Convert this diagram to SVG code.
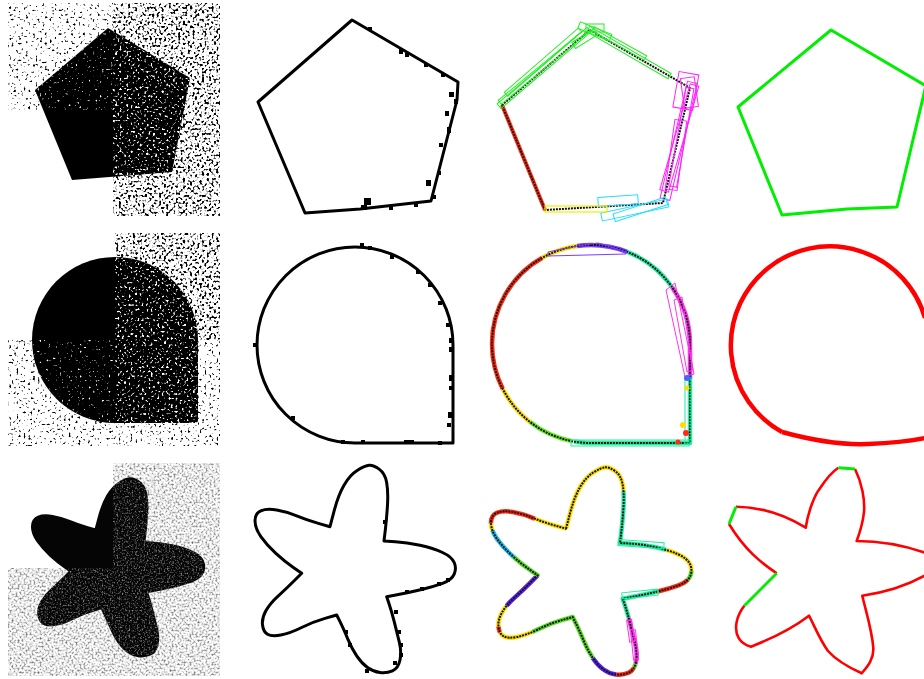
<svg xmlns="http://www.w3.org/2000/svg" xmlns:xlink="http://www.w3.org/1999/xlink" width="924" height="679" viewBox="0 0 924 679">
<style>
.out{fill:none;stroke:#000;stroke-width:3;stroke-linejoin:round}
.dot{fill:#000}
.thin{fill:none;stroke:#111;stroke-width:2;stroke-linejoin:round}
.seg{fill:none;stroke-width:4.5;stroke-linecap:butt;stroke-linejoin:round}
.box{fill:none;stroke-width:1}
.g4{fill:none;stroke:#00ee00;stroke-width:3;stroke-linejoin:round}
.r4{fill:none;stroke:#ff0000;stroke-width:2.6;stroke-linejoin:round}
</style>
<defs>
<filter id="nL" x="0" y="0" width="1" height="1" color-interpolation-filters="sRGB">
<feTurbulence type="fractalNoise" baseFrequency="0.42" numOctaves="1" seed="4"/>
<feColorMatrix type="matrix" values="0 0 0 0 0 0 0 0 0 0 0 0 0 0 0 8 0 0 0 -4.8"/>
<feComposite in2="SourceGraphic" operator="in"/>
</filter>
<filter id="nD" x="0" y="0" width="1" height="1" color-interpolation-filters="sRGB">
<feTurbulence type="fractalNoise" baseFrequency="0.42" numOctaves="1" seed="9"/>
<feColorMatrix type="matrix" values="0 0 0 0 0 0 0 0 0 0 0 0 0 0 0 8 0 0 0 -4.2"/>
<feComposite in2="SourceGraphic" operator="in"/>
</filter>
<filter id="wS" x="0" y="0" width="1" height="1" color-interpolation-filters="sRGB">
<feTurbulence type="fractalNoise" baseFrequency="0.45" numOctaves="1" seed="13"/>
<feColorMatrix type="matrix" values="0 0 0 0 1 0 0 0 0 1 0 0 0 0 1 8 0 0 0 -5.2"/>
<feComposite in2="SourceGraphic" operator="in"/>
</filter>
<filter id="wD" x="0" y="0" width="1" height="1" color-interpolation-filters="sRGB">
<feTurbulence type="fractalNoise" baseFrequency="0.45" numOctaves="1" seed="21"/>
<feColorMatrix type="matrix" values="0 0 0 0 1 0 0 0 0 1 0 0 0 0 1 8 0 0 0 -4.6"/>
<feComposite in2="SourceGraphic" operator="in"/>
</filter>
<filter id="nG" x="0" y="0" width="1" height="1" color-interpolation-filters="sRGB">
<feTurbulence type="fractalNoise" baseFrequency="0.5" numOctaves="2" seed="7"/>
<feColorMatrix type="matrix" values="0 0 0 0 0.42 0 0 0 0 0.42 0 0 0 0 0.42 2.6 0 0 0 -1.15"/>
<feComposite in2="SourceGraphic" operator="in"/>
</filter>
<filter id="wG" x="0" y="0" width="1" height="1" color-interpolation-filters="sRGB">
<feTurbulence type="fractalNoise" baseFrequency="0.5" numOctaves="2" seed="17"/>
<feColorMatrix type="matrix" values="0 0 0 0 0.5 0 0 0 0 0.5 0 0 0 0 0.5 3 0 0 0 -1.45"/>
<feComposite in2="SourceGraphic" operator="in"/>
</filter>
<clipPath id="q1tl"><rect x="0" y="0" width="113" height="110"/></clipPath>
<clipPath id="q1r"><rect x="113" y="0" width="120" height="225"/></clipPath>
<clipPath id="q2tr"><rect x="115" y="225" width="120" height="115"/></clipPath>
<clipPath id="q2bl"><rect x="0" y="340" width="115" height="115"/></clipPath>
<clipPath id="q2br"><rect x="115" y="340" width="120" height="115"/></clipPath>
<clipPath id="q3x"><path d="M113 455H235V679H0V568H113Z"/></clipPath>
<path id="star" pathLength="808" d="M330 526.7 L334.15 510.85 Q338.3 495 344.15 485 Q350 475 357.5 470.35 Q365 465.7 369.15 465.35 Q373.3 465 379.15 469.15 Q385 473.3 386.65 482.5 Q388.3 491.7 387.5 505 Q386.7 518.3 385.35 529.65 L384 541 L395.35 541.65 Q406.7 542.3 420 545.3 Q433.3 548.3 442.5 552.5 Q451.7 556.7 454.2 562.5 Q456.7 568.3 454.2 574.15 Q451.7 580 442.5 583.35 Q433.3 586.7 421.65 589.5 Q410 592.3 398.35 594.5 L386.7 596.7 L389.2 604.2 Q391.7 611.7 394.2 621.7 Q396.7 631.7 399.2 641.7 Q401.7 651.7 400 660 Q398.3 668.3 392.5 670.8 Q386.7 673.3 380 672.5 Q373.3 671.7 367.5 667.5 Q361.7 663.3 356.7 655.8 Q351.7 648.3 347.5 638.3 Q343.3 628.3 340 621.65 L336.7 615 L325 618.35 Q313.3 621.7 301.65 627.5 Q290 633.3 280.85 635 Q271.7 636.7 267.5 634.2 Q263.3 631.7 262.5 625 Q261.7 618.3 265.85 610.8 Q270 603.3 278.35 595.8 Q286.7 588.3 294.2 580.8 L301.7 573.3 L293.35 567.5 Q285 561.7 275.85 553.35 Q266.7 545 260.85 536.65 Q255 528.3 255 520.8 Q255 513.3 260.85 510.8 Q266.7 508.3 276.7 510 Q286.7 511.7 296.7 515.85 Q306.7 520 318.35 523.35 Z"/>
<path id="tear3" pathLength="665" d="M591 245 A99 99 0 0 1 690 344 L690 443 L591 443 A99 99 0 0 1 492 344 A99 99 0 0 1 591 245 Z"/>
</defs>
<rect width="924" height="679" fill="#fff"/>

<!-- Column 1: input images -->
<g id="img-pentagon">
<rect x="8" y="3" width="105" height="107" fill="#000" filter="url(#nL)"/>
<rect x="113" y="3" width="107" height="107" fill="#000" filter="url(#nD)"/>
<rect x="113" y="110" width="107" height="106" fill="#000" filter="url(#nD)"/>
<polygon points="108,28 190,78 172,172 72,180 35,90" fill="#000"/>
<polygon points="108,28 190,78 172,172 72,180 35,90" fill="#000" filter="url(#wS)" clip-path="url(#q1tl)"/>
<polygon points="108,28 190,78 172,172 72,180 35,90" fill="#000" filter="url(#wD)" clip-path="url(#q1r)"/>
</g>
<g id="img-teardrop">
<rect x="115" y="233" width="105" height="107" fill="#000" filter="url(#nD)"/>
<rect x="8" y="340" width="107" height="106" fill="#000" filter="url(#nL)"/>
<rect x="115" y="340" width="105" height="106" fill="#000" filter="url(#nL)"/>
<path d="M115 257 A83 83 0 0 1 198 340 L198 420 Q198 423 195 423 L115 423 A83 83 0 0 1 115 257 Z" fill="#000"/>
<path d="M115 257 A83 83 0 0 1 198 340 L198 420 Q198 423 195 423 L115 423 A83 83 0 0 1 115 257 Z" fill="#000" filter="url(#wD)" clip-path="url(#q2tr)"/>
<path d="M115 257 A83 83 0 0 1 198 340 L198 420 Q198 423 195 423 L115 423 A83 83 0 0 1 115 257 Z" fill="#000" filter="url(#wS)" clip-path="url(#q2bl)"/>
<path d="M115 257 A83 83 0 0 1 198 340 L198 420 Q198 423 195 423 L115 423 A83 83 0 0 1 115 257 Z" fill="#000" filter="url(#wD)" clip-path="url(#q2br)"/>
</g>
<g id="img-star">
<rect x="113" y="463" width="107" height="105" fill="#000" filter="url(#nG)"/>
<rect x="8" y="568" width="105" height="108" fill="#000" filter="url(#nG)"/>
<rect x="113" y="568" width="107" height="108" fill="#000" filter="url(#nG)"/>
<g transform="translate(-180.3 89.4) scale(0.84)">
<use xlink:href="#star" href="#star" fill="#050505" stroke="#050505" stroke-width="7"/>
</g>
<g clip-path="url(#q3x)">
<g transform="translate(-180.3 89.4) scale(0.84)">
<use xlink:href="#star" href="#star" fill="#000" stroke="#000" stroke-width="7" filter="url(#wG)"/>
</g>
</g>
</g>

<!-- Column 2: black outlines -->
<g id="outline-pentagon">
<polygon class="out" points="352,20 458,82 457,100 431,201 360,209 305,213 258,102"/>
<g class="dot">
<rect x="368" y="27" width="4" height="4"/><rect x="399" y="49" width="4" height="5"/><rect x="405" y="53" width="4" height="4"/>
<rect x="424" y="63" width="4" height="4"/><rect x="441" y="73" width="4" height="4"/><rect x="449" y="92" width="5" height="5"/>
<rect x="454" y="99" width="4" height="5"/><rect x="445" y="111" width="4" height="5"/><rect x="447" y="127" width="4" height="6"/>
<rect x="439" y="143" width="4" height="4"/><rect x="437" y="171" width="4" height="4"/><rect x="426" y="180" width="5" height="6"/>
<rect x="364" y="198" width="7" height="7"/><rect x="361" y="205" width="6" height="5"/><rect x="414" y="203" width="4" height="4"/>
<rect x="389" y="206" width="4" height="4"/><rect x="432" y="195" width="4" height="4"/>
</g>
</g>
<g id="outline-teardrop">
<path class="out" d="M355 247 A98 98 0 0 1 453 345 L453 443 L355 443 A98 98 0 0 1 257 345 A98 98 0 0 1 355 247 Z"/>
<g class="dot">
<rect x="360" y="243" width="4" height="4"/><rect x="368" y="246" width="4" height="4"/><rect x="390" y="255" width="4" height="4"/>
<rect x="416" y="270" width="4" height="4"/><rect x="428" y="283" width="4" height="4"/><rect x="438" y="301" width="4" height="4"/>
<rect x="446" y="323" width="4" height="4"/><rect x="449" y="338" width="4" height="5"/><rect x="449" y="347" width="4" height="5"/>
<rect x="449" y="375" width="5" height="6"/><rect x="449" y="386" width="4" height="4"/><rect x="448" y="412" width="5" height="6"/>
<rect x="447" y="423" width="4" height="4"/><rect x="438" y="441" width="4" height="4"/><rect x="404" y="440" width="6" height="4"/>
<rect x="361" y="440" width="4" height="4"/><rect x="253" y="343" width="4" height="4"/><rect x="291" y="416" width="4" height="4"/>
<rect x="341" y="440" width="4" height="4"/><rect x="410" y="440" width="4" height="4"/>
</g>
</g>
<g id="outline-star">
<use xlink:href="#star" href="#star" class="out"/>
<g class="dot">
<rect x="383" y="520" width="3" height="4"/><rect x="394" y="610" width="4" height="4"/><rect x="397" y="630" width="4" height="4"/>
<rect x="399" y="643" width="4" height="4"/><rect x="399" y="653" width="4" height="4"/><rect x="393" y="661" width="4" height="4"/>
<rect x="365" y="669" width="4" height="4"/><rect x="348" y="643" width="4" height="4"/><rect x="344" y="630" width="4" height="4"/>
<rect x="405" y="590" width="4" height="4"/><rect x="420" y="587" width="4" height="4"/><rect x="446" y="578" width="4" height="4"/>
<rect x="437" y="582" width="4" height="4"/>
</g>
</g>

<!-- Column 3: segmented outlines with boxes -->
<g id="segments-pentagon">
<line x1="502" y1="105" x2="545" y2="210" stroke="#ff2a10" stroke-width="4"/>
<polygon class="thin" points="590,30 690,88 663,203 545,210 502,105" stroke-width="2.4" stroke-dasharray="2 1"/>
<g class="box" stroke="#22ee22">
<rect x="499" y="101" width="118" height="6" transform="rotate(-40.4 502 105)"/>
<rect x="502" y="99" width="110" height="5" transform="rotate(-39.5 502 105)"/>
<rect x="512" y="97" width="98" height="5" transform="rotate(-41 502 105)"/>
<rect x="588" y="27" width="94" height="6" transform="rotate(30.1 590 30)"/>
<rect x="592" y="25" width="60" height="5" transform="rotate(29 590 30)"/>
<rect x="578" y="26" width="34" height="7" transform="rotate(22 590 30)"/>
<rect x="568" y="31" width="26" height="7" transform="rotate(-32 590 30)"/>
<rect x="586" y="24" width="18" height="8"/>
</g>
<g class="box" stroke="#ff22ff">
<rect x="684" y="82" width="120" height="10" transform="rotate(103.2 690 88)"/>
<rect x="686" y="80" width="110" height="9" transform="rotate(106 690 88)"/>
<rect x="690" y="84" width="100" height="8" transform="rotate(100 690 88)"/>
<rect x="676" y="73" width="20" height="36" transform="rotate(10 686 90)"/>
<rect x="682" y="78" width="14" height="30" transform="rotate(-8 686 90)"/>
<rect x="670" y="120" width="12" height="70" transform="rotate(8 676 155)"/>
</g>
<g class="box" stroke="#22ddff">
<rect x="600" y="200" width="68" height="8" transform="rotate(-12 663 203)"/>
<rect x="612" y="198" width="55" height="8" transform="rotate(-18 663 203)"/>
<rect x="598" y="196" width="40" height="9" transform="rotate(-4 620 200)"/>
</g>
<rect x="545" y="206" width="62" height="6" fill="none" stroke="#eeee00" stroke-width="1.2"/>
</g>
<g id="segments-teardrop">
<g class="seg">
<use xlink:href="#tear3" href="#tear3" stroke="#7a3cff" stroke-dasharray="37 628"/>
<use xlink:href="#tear3" href="#tear3" stroke="#22eea0" stroke-dasharray="58 607" stroke-dashoffset="-37"/>
<use xlink:href="#tear3" href="#tear3" stroke="#ff33ee" stroke-dasharray="91 574" stroke-dashoffset="-95"/>
<use xlink:href="#tear3" href="#tear3" stroke="#4466ff" stroke-dasharray="5 660" stroke-dashoffset="-186"/>
<use xlink:href="#tear3" href="#tear3" stroke="#22eea0" stroke-dasharray="180 485" stroke-dashoffset="-191"/>
<use xlink:href="#tear3" href="#tear3" stroke="#66ee22" stroke-dasharray="48 617" stroke-dashoffset="-372"/>
<use xlink:href="#tear3" href="#tear3" stroke="#ffdd00" stroke-dasharray="43 622" stroke-dashoffset="-420"/>
<use xlink:href="#tear3" href="#tear3" stroke="#ff2a10" stroke-dasharray="151 514" stroke-dashoffset="-463"/>
<use xlink:href="#tear3" href="#tear3" stroke="#ffdd00" stroke-dasharray="37 628" stroke-dashoffset="-614"/>
<use xlink:href="#tear3" href="#tear3" stroke="#7a3cff" stroke-dasharray="14 651" stroke-dashoffset="-651"/>
</g>
<use xlink:href="#tear3" href="#tear3" class="thin" stroke-width="1.6" stroke-dasharray="2 1"/>
<polygon points="548,252 577,246 598,243 627,252 626,254 548,256" fill="none" stroke="#7a3cff" stroke-width="1"/>
<polygon points="666,290 675,283 694,374 685,377" fill="none" stroke="#ff33ee" stroke-width="1"/>
<polygon points="674,300 682,297 693,370 687,372" fill="none" stroke="#ff33ee" stroke-width="1"/>
<rect x="571" y="440" width="118" height="6" fill="none" stroke="#22eea0" stroke-width="1"/>
<rect x="685" y="378" width="6" height="66" fill="none" stroke="#22eea0" stroke-width="1"/>
<circle cx="683" cy="425" r="3" fill="#ffdd00"/><circle cx="686" cy="433" r="3" fill="#ff2a10"/><circle cx="678" cy="442" r="2.5" fill="#ff2a10"/>
<circle cx="687" cy="388" r="2.5" fill="#ffdd00"/><circle cx="687" cy="378" r="3" fill="#4466ff"/>
</g>
<g id="segments-star" transform="translate(236 2)">
<g class="seg">
<use xlink:href="#star" href="#star" stroke="#ffe000" stroke-dasharray="112 696"/>
<use xlink:href="#star" href="#star" stroke="#22eea0" stroke-dasharray="100 708" stroke-dashoffset="-112"/>
<use xlink:href="#star" href="#star" stroke="#ffe000" stroke-dasharray="36 772" stroke-dashoffset="-212"/>
<use xlink:href="#star" href="#star" stroke="#55dd22" stroke-dasharray="10 798" stroke-dashoffset="-248"/>
<use xlink:href="#star" href="#star" stroke="#ff2a10" stroke-dasharray="32 776" stroke-dashoffset="-258"/>
<use xlink:href="#star" href="#star" stroke="#22eea0" stroke-dasharray="58 750" stroke-dashoffset="-290"/>
<use xlink:href="#star" href="#star" stroke="#ff33ee" stroke-dasharray="47 761" stroke-dashoffset="-348"/>
<use xlink:href="#star" href="#star" stroke="#55dd22" stroke-dasharray="5 803" stroke-dashoffset="-395"/>
<use xlink:href="#star" href="#star" stroke="#ff2a10" stroke-dasharray="20 788" stroke-dashoffset="-400"/>
<use xlink:href="#star" href="#star" stroke="#5a22ee" stroke-dasharray="30 778" stroke-dashoffset="-420"/>
<use xlink:href="#star" href="#star" stroke="#55dd22" stroke-dasharray="90 718" stroke-dashoffset="-450"/>
<use xlink:href="#star" href="#star" stroke="#ffe000" stroke-dasharray="36 772" stroke-dashoffset="-540"/>
<use xlink:href="#star" href="#star" stroke="#ff2a10" stroke-dasharray="6 802" stroke-dashoffset="-576"/>
<use xlink:href="#star" href="#star" stroke="#ffe000" stroke-dasharray="23 785" stroke-dashoffset="-582"/>
<use xlink:href="#star" href="#star" stroke="#5a22ee" stroke-dasharray="44 764" stroke-dashoffset="-605"/>
<use xlink:href="#star" href="#star" stroke="#55dd22" stroke-dasharray="31 777" stroke-dashoffset="-649"/>
<use xlink:href="#star" href="#star" stroke="#22bbee" stroke-dasharray="35 773" stroke-dashoffset="-680"/>
<use xlink:href="#star" href="#star" stroke="#ffe000" stroke-dasharray="7 801" stroke-dashoffset="-715"/>
<use xlink:href="#star" href="#star" stroke="#ff2a10" stroke-dasharray="53 755" stroke-dashoffset="-722"/>
<use xlink:href="#star" href="#star" stroke="#ffe000" stroke-dasharray="33 775" stroke-dashoffset="-775"/>
</g>
<use xlink:href="#star" href="#star" class="thin" stroke-width="1.4" stroke-dasharray="2 1"/>
<rect x="392" y="618" width="5" height="22" fill="none" stroke="#ff33ee" stroke-width="1" transform="rotate(-8 394 628)"/>
<rect x="396" y="628" width="5" height="30" fill="none" stroke="#ff33ee" stroke-width="1" transform="rotate(-6 398 643)"/>
<rect x="386" y="589" width="36" height="6" fill="none" stroke="#22eea0" stroke-width="1" transform="rotate(-6 404 592)"/>
<rect x="382" y="539" width="46" height="6" fill="none" stroke="#22eea0" stroke-width="1" transform="rotate(4 404 542)"/>
</g>

<!-- Column 4: fitted results -->
<g id="fit-pentagon">
<polyline class="g4" points="926,85 897,207 847,209 782,215 738,107 831,30 926,86"/>
</g>
<g id="fit-teardrop">
<path d="M782 432 A99 99 0 1 1 925 318" fill="none" stroke="#ff0000" stroke-width="4.5"/>
<path d="M782 432 C815 441 845 445 868 444 S910 441 925 438" fill="none" stroke="#ff0000" stroke-width="4.5"/>
</g>
<g id="fit-star">
<path class="r4" d="M855 469 C862 483 865 500 864 512 C863 522 860 532 856.7 541 C878 541 900 544 926 553"/>
<path class="r4" d="M926 575 C910 584 890 592 862.3 595.7 C866 612 872 630 873.3 648 C874 660 866 668 861.7 673.3 C850 668 836 660 828 651 C820 640 814 625 809 615.7 C793 628 773 638 751 646.7 C740 644 734 635 736.7 621.7 C738 615 741 610 744.3 605.7"/>
<path class="r4" d="M776.7 573.3 C760 562 745 550 729 524"/>
<path class="r4" d="M736 506.7 C760 507 785 515 805.7 527.7 C808 512 815 494 820 488.3 C826 479 832 472 838.3 467.7"/>
<line class="g4" x1="838.3" y1="467.7" x2="855" y2="469"/>
<line class="g4" x1="744.3" y1="605.7" x2="776.7" y2="573.3"/>
<line class="g4" x1="729" y1="524" x2="736" y2="506.7"/>
</g>
</svg>
